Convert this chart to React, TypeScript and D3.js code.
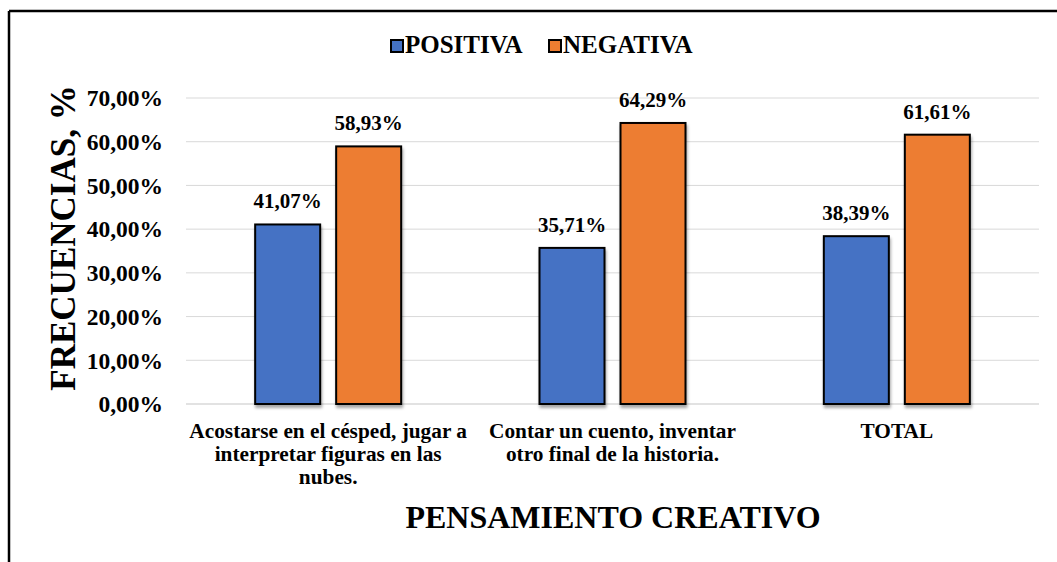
import React from "react";
import * as d3 from "d3";

const categories: string[][] = [
  ["Acostarse en el césped, jugar a", "interpretar figuras en las", "nubes."],
  ["Contar un cuento, inventar", "otro final de la historia."],
  ["TOTAL"],
];
const positiva = [41.07, 35.71, 38.39];
const negativa = [58.93, 64.29, 61.61];
const seriesNames = ["POSITIVA", "NEGATIVA"];
const seriesColors = ["#4472C4", "#ED7D31"];
const yTicks = [0, 10, 20, 30, 40, 50, 60, 70];

const W = 1057;
const H = 562;
const FONT = "Liberation Serif, Times New Roman, serif";

const fmt = (v: number) => v.toFixed(2).replace(".", ",") + "%";

export default function App() {
  const plot = { left: 186, right: 1039, top: 98, bottom: 404 };
  const x0 = d3
    .scaleBand<number>()
    .domain(d3.range(categories.length))
    .range([plot.left, plot.right]);
  const y = d3.scaleLinear().domain([0, 70]).range([plot.bottom, plot.top]);
  const barW = 65;
  const gap = 16;
  const data = [positiva, negativa];

  return (
    <svg
      width={W}
      height={H}
      style={{ position: "absolute", left: 0, top: 0, background: "#fff" }}
      fontFamily={FONT}
    >
      <defs>
        <filter id="sh" x="-20%" y="-20%" width="140%" height="140%">
          <feDropShadow dx="1" dy="3" stdDeviation="1.5" floodColor="#000" floodOpacity="0.35" />
        </filter>
      </defs>
      <rect x={0} y={0} width={W} height={H} fill="#fff" />
      {/* frame */}
      <line x1={9} y1={11} x2={9} y2={H} stroke="#000" strokeWidth={2.5} />
      <line x1={9} y1={11} x2={W} y2={11} stroke="#000" strokeWidth={2.5} />

      {/* gridlines */}
      {yTicks.map((t) => (
        <line
          key={t}
          x1={plot.left}
          x2={plot.right}
          y1={y(t)}
          y2={y(t)}
          stroke="#d9d9d9"
          strokeWidth={t === 0 ? 1.5 : 1}
        />
      ))}
      {/* y tick labels */}
      {yTicks.map((t) => (
        <text
          key={"l" + t}
          x={163}
          y={y(t)}
          dy="0.35em"
          textAnchor="end"
          fontSize={23.5}
          fontWeight="bold"
        >
          {fmt(t)}
        </text>
      ))}

      {/* bars */}
      {categories.map((_, i) => {
        const cx = (x0(i) as number) + x0.bandwidth() / 2;
        return data.map((s, j) => {
          const bx = j === 0 ? cx - gap / 2 - barW : cx + gap / 2;
          const v = s[i];
          return (
            <g key={i + "-" + j}>
              <rect
                x={bx}
                y={y(v)}
                width={barW}
                height={y(0) - y(v)}
                fill={seriesColors[j]}
                stroke="#000"
                strokeWidth={2}
                filter="url(#sh)"
              />
              <text
                x={bx + barW / 2}
                y={y(v) - 16}
                textAnchor="middle"
                fontSize={21}
                fontWeight="bold"
              >
                {fmt(v)}
              </text>
            </g>
          );
        });
      })}

      {/* category labels */}
      {categories.map((lines, i) => {
        const cx = (x0(i) as number) + x0.bandwidth() / 2;
        return (
          <text key={"c" + i} textAnchor="middle" fontSize={21.3} fontWeight="bold">
            {lines.map((ln, k) => (
              <tspan key={k} x={cx} y={438 + k * 23}>
                {ln}
              </tspan>
            ))}
          </text>
        );
      })}

      {/* y axis title */}
      <text
        transform={`translate(75, ${(plot.top + plot.bottom) / 2 - 13}) rotate(-90)`}
        textAnchor="middle"
        fontSize={35}
        fontWeight="bold"
      >
        FRECUENCIAS, %
      </text>

      {/* x axis title */}
      <text x={613} y={528} textAnchor="middle" fontSize={32} fontWeight="bold">
        PENSAMIENTO CREATIVO
      </text>

      {/* legend */}
      {seriesNames.map((n, j) => {
        const lx = j === 0 ? 391 : 549;
        return (
          <g key={n}>
            <rect
              x={lx}
              y={40}
              width={12}
              height={12}
              fill={seriesColors[j]}
              stroke="#000"
              strokeWidth={2}
            />
            <text x={lx + 14} y={53} fontSize={25} fontWeight="bold">
              {n}
            </text>
          </g>
        );
      })}
    </svg>
  );
}
